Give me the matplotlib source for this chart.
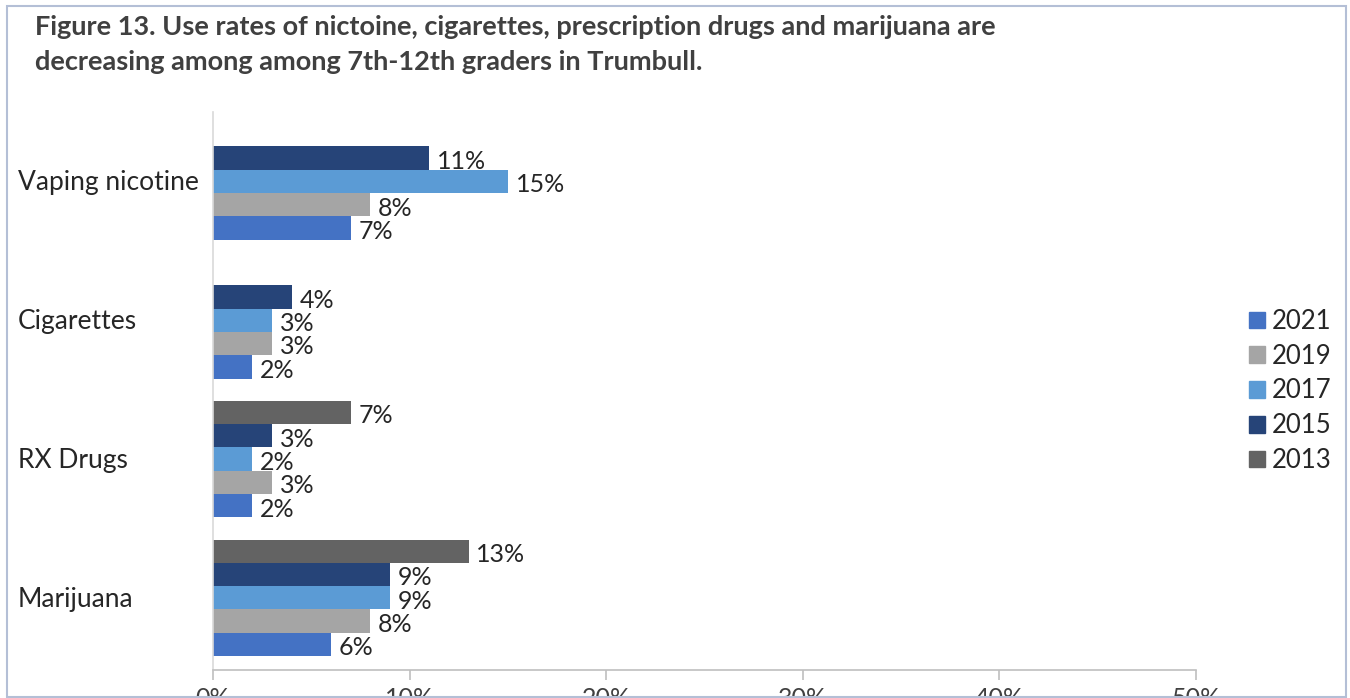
import matplotlib.pyplot as plt
import matplotlib.patches as patches
import matplotlib.transforms as mtransforms
import numpy as np

plt.rcParams['font.family'] = ['Lato', 'DejaVu Sans']

# data
categories = ["Vaping nicotine", "Cigarettes", "RX Drugs", "Marijuana"]
years = ["2013", "2015", "2017", "2019", "2021"]
v2013 = [None, None, 7, 13]
v2015 = [11, 4, 3, 9]
v2017 = [15, 3, 2, 9]
v2019 = [8, 3, 3, 8]
v2021 = [7, 2, 2, 6]
series = [v2013, v2015, v2017, v2019, v2021]
colors = ["#636363", "#264478", "#5B9BD5", "#A5A5A5", "#4472C4"]
xticks = [0, 10, 20, 30, 40, 50]

W, H = 1350, 698
fig = plt.figure(figsize=(W / 100, H / 100), dpi=100)
fig.patch.set_facecolor("white")

# outer border of the chart area
fig.patches.append(patches.Rectangle((7 / W, 1.5 / H), (1346 - 7) / W, 1 - 7.5 / H,
                                     transform=fig.transFigure, fill=False,
                                     edgecolor="#B4BFD6", linewidth=1.5, zorder=5))

fig.text(35 / W, 1 - 27 / H,
         "Figure 13. Use rates of nictoine, cigarettes, prescription drugs and marijuana are",
         fontsize=19.5, fontweight="bold", color="#404040", va="center", ha="left")
fig.text(35 / W, 1 - 62 / H,
         "decreasing among among 7th-12th graders in Trumbull.",
         fontsize=19.5, fontweight="bold", color="#404040", va="center", ha="left")

ax = fig.add_axes([213 / W, (H - 670) / H, (1196 - 213) / W, (670 - 112) / H])
ax.set_xlim(0, 50)
ax.set_ylim(-0.52, len(categories) - 0.5)

h = 0.168
centers = len(categories) - 1 - np.arange(len(categories))
for i, (yr, vals, c) in enumerate(zip(years, series, colors)):
    for j, v in enumerate(vals):
        if v is None:
            continue
        y = centers[j] + (2 - i) * h
        ax.barh(y, v, height=h, color=c, edgecolor="none")
        ax.text(v + 0.4, y - 0.025, f"{v}%", va="center", ha="left",
                fontsize=18, color="#262626")

ax.set_yticks([])
cat_tr = mtransforms.blended_transform_factory(fig.transFigure, ax.transData)
for j, cat in enumerate(categories):
    ax.text(18 / W, centers[j] - 0.01, cat, transform=cat_tr,
            fontsize=19, color="#262626", va="center", ha="left")

ax.set_xticks(xticks)
ax.set_xticklabels([f"{t}%" for t in xticks], fontsize=18, color="#404040")
ax.tick_params(axis="x", length=7, color="#BFBFBF", width=1.2, pad=5.5)
for s in ["top", "right"]:
    ax.spines[s].set_visible(False)
ax.spines["left"].set_color("#D9D9D9")
ax.spines["bottom"].set_color("#BFBFBF")
ax.spines["left"].set_linewidth(1.2)
ax.spines["bottom"].set_linewidth(1.2)

# legend
handles = [patches.Patch(color=colors[i], label=years[i]) for i in range(len(years) - 1, -1, -1)]
fig.legend(handles=handles, loc="center left", bbox_to_anchor=(1226 / W, 1 - 391 / H),
           frameon=False, fontsize=18.5, handlelength=0.62, handleheight=0.62,
           handletextpad=0.25, labelspacing=0.38, labelcolor="#262626")

fig.savefig("out.png", dpi=100)
